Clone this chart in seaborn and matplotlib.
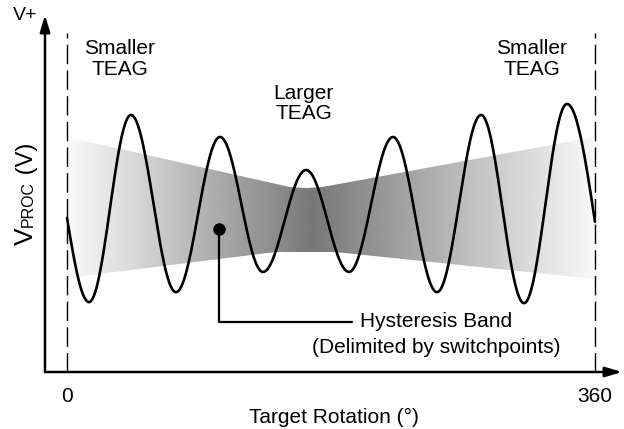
import numpy as np
import matplotlib
matplotlib.use("Agg")
import matplotlib.pyplot as plt
import seaborn as sns
from matplotlib.path import Path
from matplotlib.patches import PathPatch

# ---------------- data (rotation in degrees, V_PROC in arbitrary units 0-100) -------------
wave_deg = [0, 15.0, 43.6, 74.3, 104.3, 133.6, 163.0, 192.3, 222.3, 252.3, 282.3, 311.6, 340.9, 360]
wave_v = [43.4, 19.7, 72.4, 22.5, 66.2, 28.2, 56.9, 28.2, 66.2, 22.5, 72.4, 19.4, 75.5, 42.3]

band_top_deg = [0, 152, 163, 174, 360]
band_top_v = [66.2, 52.1, 51.8, 52.1, 66.2]
band_bot_deg = [0, 142, 183, 360]
band_bot_v = [26.5, 33.8, 33.8, 26.2]

shade_deg = [0, 168, 360]
shade_gray = [0.985, 0.47, 0.975]

x_ticks = [0, 360]
x_tick_labels = ["0", "360"]
region_labels = ["Smaller\nTEAG", "Larger\nTEAG", "Smaller\nTEAG"]
region_label_deg = [36.0, 161.5, 317.0]
region_label_v = [88.2, 75.6, 88.2]

dot_deg, dot_v = 103.6, 40.3
leader_corner_v = 14.1
leader_end_deg = 194.3
hyst_text = ["Hysteresis Band", "(Delimited by switchpoints)"]
hyst_text_deg = 251.6
hyst_text_v = [14.1, 7.0]

# ---------------- style ----------------
sns.set_theme(style="white")
plt.rcParams["font.family"] = ["Liberation Sans", "DejaVu Sans"]
plt.rcParams["text.color"] = "black"
plt.rcParams["axes.labelcolor"] = "black"
plt.rcParams["xtick.color"] = "black"
plt.rcParams["xtick.labelcolor"] = "black"
FS = 15

W, H = 624, 429
fig = plt.figure(figsize=(W / 100, H / 100), dpi=100)
ax_left, ax_right, ax_bottom, ax_top = 45, 622, 372, 15
ax = fig.add_axes([ax_left / W, 1 - ax_bottom / H, (ax_right - ax_left) / W, (ax_bottom - ax_top) / H])
px_per_deg = 528 / 360.0
ax.set_xlim((ax_left - 67) / px_per_deg, (ax_right - 67) / px_per_deg)
ax.set_ylim(0, (ax_bottom - ax_top) / 3.55)
for s in ax.spines.values():
    s.set_visible(False)
ax.set_yticks([])
ax.set_xticks(x_ticks)
ax.set_xticklabels(x_tick_labels, fontsize=FS, color="black")
ax.tick_params(axis="x", length=0, pad=11)
ax.set_xlabel("Target Rotation (°)", fontsize=FS, labelpad=1, color="black")

# ---------------- hysteresis band with horizontal gradient ----------------
verts = list(zip(band_top_deg, band_top_v)) + list(zip(band_bot_deg[::-1], band_bot_v[::-1]))
verts.append(verts[0])
codes = [Path.MOVETO] + [Path.LINETO] * (len(verts) - 2) + [Path.CLOSEPOLY]
band_patch = PathPatch(Path(verts, codes), facecolor="none", edgecolor="none")
ax.add_patch(band_patch)
gx = np.linspace(0, 360, 721)
grad = np.interp(gx, shade_deg, shade_gray)
im = ax.imshow(grad[np.newaxis, :], extent=[0, 360, 0, 100], cmap="gray", vmin=0, vmax=1,
               aspect="auto", interpolation="bilinear", zorder=1)
im.set_clip_path(band_patch)

# ---------------- dashed boundaries ----------------
for xd in x_ticks:
    ax.plot([xd, xd], [0, 95.5], color="black", lw=1.0, dashes=(14, 4.5), zorder=2)

# ---------------- waveform (half-wave shapes between read extrema) ----------------
xs, ys = [], []
nseg = len(wave_deg) - 1
for i in range(nseg):
    x0, x1 = wave_deg[i], wave_deg[i + 1]
    v0, v1 = wave_v[i], wave_v[i + 1]
    t = np.linspace(0, 1, 60, endpoint=(i == nseg - 1))
    if i == 0:
        s = np.sin(np.pi / 2 * t)
    elif i == nseg - 1:
        s = 1 - np.cos(np.pi / 2 * t)
    else:
        s = (1 - np.cos(np.pi * t)) / 2
    xs.append(x0 + (x1 - x0) * t)
    ys.append(v0 + (v1 - v0) * s)
xs = np.concatenate(xs)
ys = np.concatenate(ys)
sns.lineplot(x=xs, y=ys, sort=False, estimator=None, color="black", lw=1.9, ax=ax, zorder=3)

# ---------------- axes arrows ----------------
xmin, xmax = ax.get_xlim()
ymin, ymax = ax.get_ylim()
arrow_kw = dict(arrowstyle="-|>,head_length=1.0,head_width=0.3", color="black", lw=1.8,
                shrinkA=0, shrinkB=0, mutation_scale=10)
ax.annotate("", xy=(xmax, 0), xytext=(xmin, 0), arrowprops=arrow_kw, annotation_clip=False, zorder=4)
ax.annotate("", xy=(xmin, ymax), xytext=(xmin, 0), arrowprops=arrow_kw, annotation_clip=False, zorder=4)

# ---------------- annotations ----------------
for lab, xd, yv in zip(region_labels, region_label_deg, region_label_v):
    ax.text(xd, yv, lab, ha="center", va="center", fontsize=FS, linespacing=1.1, zorder=5,
            color="black")

ax.plot([dot_deg], [dot_v], "o", color="black", ms=8, zorder=5)
ax.plot([dot_deg, dot_deg, leader_end_deg], [dot_v, leader_corner_v, leader_corner_v],
        color="black", lw=1.6, zorder=5)
for t_, yv in zip(hyst_text, hyst_text_v):
    ax.text(hyst_text_deg, yv, t_, ha="center", va="center", fontsize=FS, zorder=5, color="black")

fig.text(25 / W, 1 - 16 / H, "V+", ha="center", va="center", fontsize=14, color="black")

# y label: large V, small PROC, then (V), all on one rotated baseline
fig.canvas.draw()
renderer = fig.canvas.get_renderer()
ypos = 245
bx = 33 / W
for piece, fs in [("V", 19), ("PROC", 11.5), (" (V)", 17)]:
    t = fig.text(bx, 1 - ypos / H, piece, rotation=90, rotation_mode="anchor",
                 ha="left", va="baseline", fontsize=fs, color="black")
    ext = t.get_window_extent(renderer)
    ypos -= ext.height

fig.savefig("out.png", dpi=100)
